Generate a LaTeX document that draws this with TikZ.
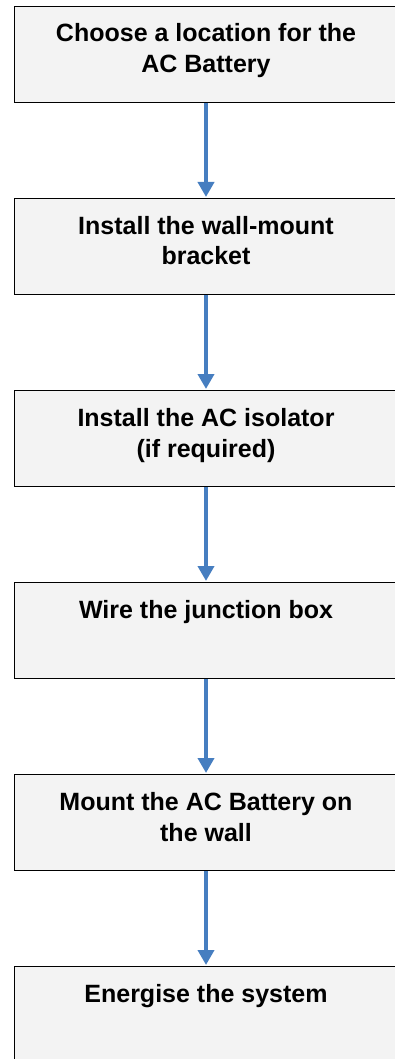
\documentclass[tikz,border=0pt]{standalone}
\usepackage{fontspec}
\setmainfont{Liberation Sans}
\usetikzlibrary{arrows.meta,calc}
\definecolor{boxfill}{RGB}{243,243,243}
\definecolor{arrowblue}{RGB}{70,126,192}
\tikzset{
  stepbox/.style={draw=black, line width=1pt, fill=boxfill, minimum width=384pt, minimum height=96pt, inner sep=0pt, anchor=north},
  steptext/.style={font=\bfseries\fontsize{25}{31}\selectfont, align=center, inner sep=0pt, anchor=base},
  flow/.style={draw=arrowblue, line width=4.5pt, -{Triangle[length=15pt,width=16pt]}, shorten >=1pt}
}
\begin{document}
\begin{tikzpicture}[x=1pt,y=1pt]
\useasboundingbox (0,0) rectangle (394,-1059);
\node[stepbox] (b1) at (206,-6) {};
\node[stepbox] (b2) at (206,-198) {};
\node[stepbox] (b3) at (206,-390) {};
\node[stepbox] (b4) at (206,-582) {};
\node[stepbox] (b5) at (206,-774) {};
\node[stepbox] (b6) at (206,-966) {};
\node[steptext] (t1) at ($(b1.north)+(0,-67)$) {Choose a location for the\\AC Battery};
\node[steptext] (t2) at ($(b2.north)+(0,-67)$) {Install the wall-mount\\bracket};
\node[steptext] (t3) at ($(b3.north)+(0,-67)$) {Install the AC isolator\\(if required)};
\node[steptext] (t4) at ($(b4.north)+(0,-36)$) {Wire the junction box};
\node[steptext] (t5) at ($(b5.north)+(0,-67)$) {Mount the AC Battery on\\the wall};
\node[steptext] (t6) at ($(b6.north)+(0,-36)$) {Energise the system};
\draw[flow] (b1.south) -- (b2.north);
\draw[flow] (b2.south) -- (b3.north);
\draw[flow] (b3.south) -- (b4.north);
\draw[flow] (b4.south) -- (b5.north);
\draw[flow] (b5.south) -- (b6.north);
\end{tikzpicture}
\end{document}
